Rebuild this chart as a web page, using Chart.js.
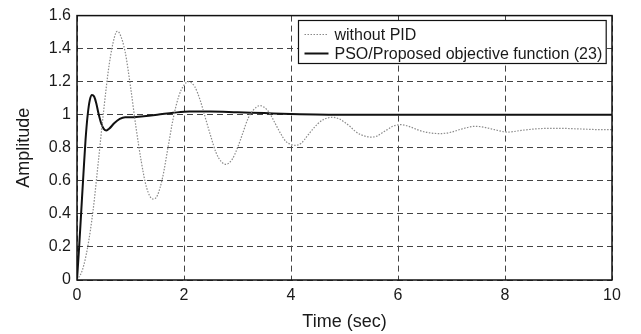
<!DOCTYPE html>
<html>
<head>
<meta charset="utf-8">
<script src="https://cdn.jsdelivr.net/npm/chart.js@4/dist/chart.umd.min.js"></script>
<style>
html,body{margin:0;padding:0;background:#fff;}
#wrap{width:641px;height:334px;}
</style>
</head>
<body>
<div id="wrap"><canvas id="c" width="641" height="334"></canvas></div>
<script>
// ---- data ----
const seriesNames = ["without PID", "PSO/Proposed objective function (23)"];

const timeNoPid = [0,0.1,0.2,0.3,0.4,0.5,0.6,0.7,0.75,0.8,0.9,1.0,1.1,1.2,1.3,1.42,1.5,1.6,1.7,1.8,1.9,2.0,2.08,2.2,2.3,2.4,2.5,2.6,2.7,2.78,2.9,3.0,3.1,3.2,3.3,3.42,3.5,3.6,3.7,3.8,3.9,4.0,4.08,4.2,4.3,4.4,4.5,4.6,4.78,4.9,5.0,5.1,5.2,5.3,5.5,5.6,5.7,5.8,5.9,6.05,6.2,6.4,6.6,6.8,7.0,7.2,7.45,7.6,7.8,8.05,8.3,8.6,9.0,9.4,9.8,10];
const ampNoPid  = [0,0.06,0.2,0.42,0.72,1.03,1.3,1.47,1.505,1.49,1.38,1.17,0.93,0.72,0.56,0.49,0.51,0.62,0.8,0.98,1.11,1.18,1.2,1.17,1.09,0.98,0.87,0.77,0.715,0.70,0.73,0.8,0.89,0.98,1.03,1.055,1.045,1.01,0.95,0.89,0.84,0.82,0.815,0.83,0.87,0.91,0.945,0.97,0.985,0.975,0.955,0.93,0.9,0.88,0.865,0.87,0.89,0.91,0.93,0.94,0.93,0.905,0.89,0.886,0.895,0.915,0.93,0.925,0.91,0.895,0.905,0.915,0.918,0.914,0.91,0.91];

const timePso = [0,0.04,0.08,0.12,0.16,0.2,0.24,0.28,0.32,0.36,0.4,0.45,0.5,0.55,0.6,0.7,0.8,0.9,1.0,1.2,1.5,1.8,2.1,2.5,3.0,3.5,4.0,5.0,6.0,8.0,10];
const ampPso  = [0,0.2,0.42,0.64,0.85,1.0,1.09,1.12,1.11,1.07,1.01,0.95,0.915,0.905,0.915,0.95,0.975,0.985,0.985,0.99,1.0,1.012,1.02,1.02,1.015,1.01,1.005,1.0,1.0,1.0,1.0];

const xTickLabels = ["0","2","4","6","8","10"];
const yTickLabels = ["0","0.2","0.4","0.6","0.8","1","1.2","1.4","1.6"];
const xTitle = "Time (sec)";
const yTitle = "Amplitude";

// ---- helpers ----
const toPts = (xs, ys) => xs.map((x, i) => ({x: x, y: ys[i]}));
const FONT = "'Liberation Sans', Arial, sans-serif";
const TXT = '#1a1a1a';

const boxPlugin = {
  id: 'boxAndLegend',
  afterDatasetsDraw(chart) {
    const {ctx, chartArea: a} = chart;
    ctx.save();
    // axes box
    ctx.strokeStyle = '#111';
    ctx.lineWidth = 1.5;
    ctx.setLineDash([]);
    ctx.strokeRect(a.left, a.top, a.right - a.left, a.bottom - a.top);
    // legend
    const ds = chart.data.datasets;
    ctx.font = '16px ' + FONT;
    let tw = 0;
    ds.forEach(d => { tw = Math.max(tw, ctx.measureText(d.label).width); });
    const lineLen = 24, gap = 6, padL = 6, padR = 4, rowH = 19;
    const w = padL + lineLen + gap + tw + padR;
    const h = 43;
    const x0 = Math.round(a.right - 6 - w) + 0.5;
    const y0 = Math.round(a.top + 4) + 0.5;
    ctx.fillStyle = '#fff';
    ctx.fillRect(x0, y0, w, h);
    ctx.strokeStyle = '#111';
    ctx.lineWidth = 1.2;
    ctx.strokeRect(x0, y0, w, h);
    ds.forEach((d, i) => {
      const cy = y0 + 14 + i * rowH;
      ctx.strokeStyle = d.borderColor;
      ctx.lineWidth = d.borderWidth;
      ctx.setLineDash(d.borderDash || []);
      ctx.beginPath();
      ctx.moveTo(x0 + padL, cy);
      ctx.lineTo(x0 + padL + lineLen, cy);
      ctx.stroke();
      ctx.setLineDash([]);
      ctx.fillStyle = TXT;
      ctx.textBaseline = 'middle';
      ctx.textAlign = 'left';
      ctx.fillText(d.label, x0 + padL + lineLen + gap, cy + 1);
    });
    ctx.restore();
  }
};

new Chart(document.getElementById('c'), {
  type: 'line',
  data: {
    datasets: [
      {
        label: seriesNames[0],
        data: toPts(timeNoPid, ampNoPid),
        borderColor: '#8a8a8a',
        borderWidth: 1.2,
        borderDash: [1.5, 1.5],
        pointRadius: 0,
        cubicInterpolationMode: 'monotone',
        fill: false
      },
      {
        label: seriesNames[1],
        data: toPts(timePso, ampPso),
        borderColor: '#111',
        borderWidth: 2,
        pointRadius: 0,
        cubicInterpolationMode: 'monotone',
        fill: false
      }
    ]
  },
  options: {
    responsive: false,
    animation: false,
    devicePixelRatio: 1,
    layout: {padding: {top: 15, right: 29, left: 0, bottom: 0}},
    plugins: {legend: {display: false}, tooltip: {enabled: false}},
    scales: {
      x: {
        type: 'linear', min: 0, max: 10,
        afterFit: s => { s.height = 54; },
        afterBuildTicks: s => { s.ticks = xTickLabels.map(v => ({value: parseFloat(v)})); },
        ticks: {
          callback: (v) => xTickLabels[xTickLabels.indexOf(String(v))] ?? '',
          font: {family: FONT, size: 16}, color: TXT, padding: 6, maxRotation: 0
        },
        grid: {color: '#444', lineWidth: 1, drawTicks: false},
        border: {display: false, dash: [6, 4]},
        title: {display: true, text: xTitle, font: {family: FONT, size: 18}, color: TXT, padding: {top: 0, bottom: 1}}
      },
      y: {
        type: 'linear', min: 0, max: 1.6,
        afterFit: s => { s.width = 77; },
        afterBuildTicks: s => { s.ticks = yTickLabels.map(v => ({value: parseFloat(v)})); },
        ticks: {
          callback: (v) => yTickLabels.find(t => Math.abs(parseFloat(t) - v) < 1e-6) ?? '',
          font: {family: FONT, size: 16}, color: TXT, padding: 6
        },
        grid: {color: '#444', lineWidth: 1, drawTicks: false},
        border: {display: false, dash: [6, 4]},
        title: {display: true, text: yTitle, font: {family: FONT, size: 18}, color: TXT, padding: {top: 13, bottom: 0}}
      }
    }
  },
  plugins: [boxPlugin]
});
</script>
</body>
</html>
